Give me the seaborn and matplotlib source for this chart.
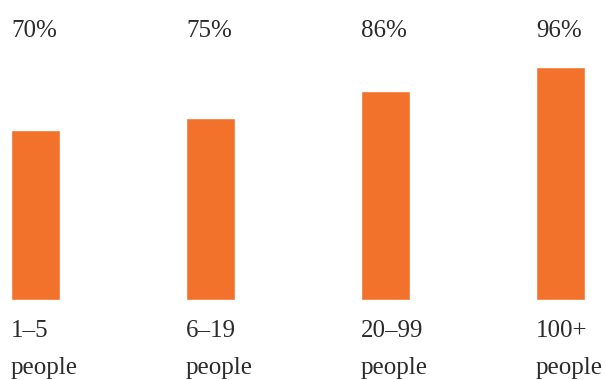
import pandas as pd
import matplotlib.pyplot as plt
import matplotlib.transforms as mtransforms
import seaborn as sns

# Chart data
groups = ["1\u20135", "6\u201319", "20\u201399", "100+"]
sub_labels = ["people", "people", "people", "people"]
shares = [70, 75, 86, 96]

df = pd.DataFrame({"group": groups, "share": shares})

sns.set_style("white")
plt.rcParams["font.family"] = ["Liberation Serif", "DejaVu Serif"]

fig = plt.figure(figsize=(6.06, 3.80), dpi=100)
ax = fig.add_axes([11 / 606, 80 / 380, 574 / 606, 242 / 380])

sns.barplot(data=df, x="group", y="share", color="#F2722B", saturation=1,
            width=0.28, ax=ax)

ax.set_xlim(-0.14, 3.14)
ax.set_ylim(0, 99.5)
ax.axis("off")

text_color = "#2b2b2b"
trans = mtransforms.blended_transform_factory(ax.transData, ax.transAxes)
for i, (g, sub, v) in enumerate(zip(groups, sub_labels, shares)):
    x_left = i - 0.14
    ax.text(x_left, (300 - 31) / 242, f"{v}%", transform=trans, ha="left",
            va="center", fontsize=18, color=text_color)
    ax.text(x_left, -(331 - 300) / 242, g, transform=trans, ha="left",
            va="center", fontsize=18, color=text_color)
    ax.text(x_left, -(368 - 300) / 242, sub, transform=trans, ha="left",
            va="center", fontsize=18, color=text_color)

fig.savefig("out.png", dpi=100)
